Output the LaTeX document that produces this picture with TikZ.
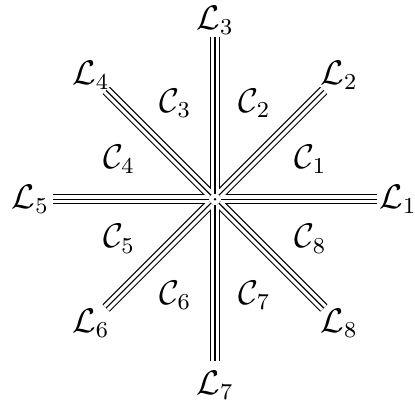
\documentclass[tikz,border=0pt]{standalone}
\usepackage{amsmath}
\usepackage{amssymb}
\begin{document}
\begin{tikzpicture}[font=\large]
\useasboundingbox (-2.655,-2.52) rectangle (2.47,2.46);
\coordinate (O) at (0,0);
% ends of the eight rays
\foreach \k/\r in {1/2,2/1.9,3/2,4/1.9,5/2,6/1.9,7/2,8/1.9}{
  \coordinate (s\k) at ({45*(\k-1)}:0.07);
  \coordinate (e\k) at ({45*(\k-1)}:\r);
}
% triple lines
\foreach \k in {1,...,8} \draw[line width=3.6pt] (s\k) -- (e\k);
\foreach \k in {1,...,8} \draw[line width=2.8pt,white] (s\k) -- (e\k);
\foreach \k in {1,...,8} \draw[line width=0.4pt] (s\k) -- (e\k);
\fill (O) circle (0.5pt);

\foreach \k/\r in {1/2.26,2/2.17,3/2.21,4/2.17,5/2.28,6/2.17,7/2.3,8/2.17}
  \node[inner sep=1pt] (L\k) at ({45*(\k-1)}:\r) {$\mathcal{L}_{\k}$};
\foreach \k in {1,...,8}
  \node (C\k) at ({45*\k-22.5}:1.28) {$\mathcal{C}_{\k}$};
\end{tikzpicture}
\end{document}
